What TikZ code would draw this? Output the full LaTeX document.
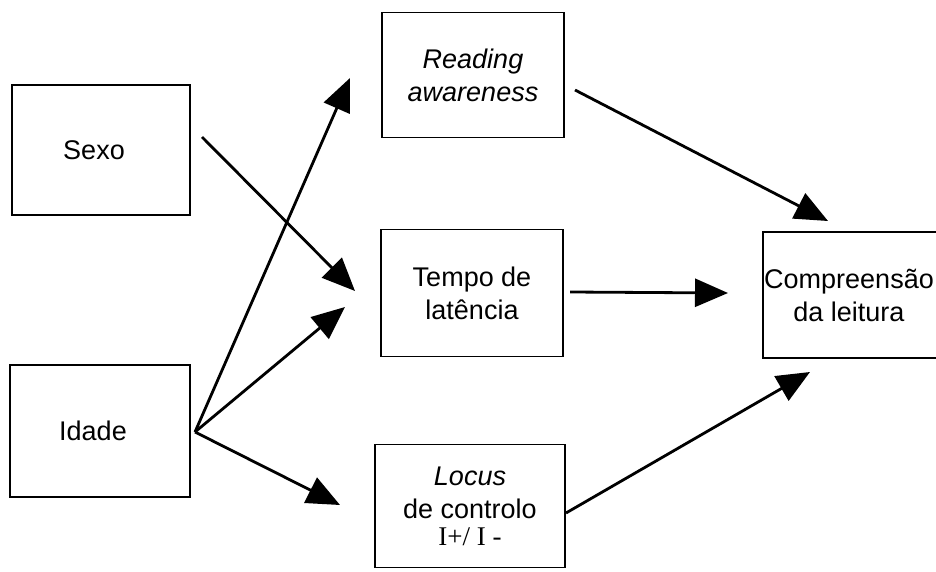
\documentclass[tikz,border=0pt]{standalone}
\usepackage{fontspec}
\setmainfont{Liberation Sans}
\newfontfamily\serifone{Liberation Serif}
\usetikzlibrary{arrows.meta}
\begin{document}
\begin{tikzpicture}[x=1pt,y=-1pt,
  boxnode/.style={draw,line width=1.9pt,rectangle,align=center,inner sep=0pt,
    font=\fontsize{27}{33}\selectfont},
  conn/.style={line width=2.8pt,-{Triangle[length=33pt,width=28pt]}}]
\useasboundingbox (0,0) rectangle (936,572);
\node[boxnode,minimum width=178pt,minimum height=130pt] (sexo) at (101,150) {Sexo\hspace*{14pt}};
\node[boxnode,minimum width=180pt,minimum height=132pt] (idade) at (100,431) {Idade\hspace*{14pt}};
\node[boxnode,minimum width=182pt,minimum height=125pt] (read) at (473,75) {\itshape Reading\\\itshape awareness};
\node[boxnode,minimum width=182pt,minimum height=127pt] (tempo) at (472,293) {Tempo de\\latência};
\node[boxnode,minimum width=190pt,minimum height=123pt] (locus) at (470,506) {\itshape Locus\\de controlo\\[-6pt]{\serifone I+/ I -}};
\node[boxnode,minimum width=184pt,minimum height=126pt] (comp) at (855,295) {\hspace*{-12pt}Compreensão\\\hspace*{-12pt}da leitura};
\coordinate (s0) at (202,137);
\coordinate (i0) at (195,432);
\coordinate (r0) at (575,90);
\coordinate (t0) at (570,292);
\coordinate (l0) at (566,513);
\coordinate (tReadIn) at (350,78);
\coordinate (tTempoA) at (355,291);
\coordinate (tTempoB) at (345,307);
\coordinate (tLocus) at (340,505);
\coordinate (tCompA) at (828,221);
\coordinate (tCompB) at (728,293);
\coordinate (tCompC) at (810,372);
\draw[conn] (s0) -- (tTempoA);
\draw[conn] (i0) -- (tReadIn);
\draw[conn] (i0) -- (tTempoB);
\draw[conn] (i0) -- (tLocus);
\draw[conn] (r0) -- (tCompA);
\draw[conn] (t0) -- (tCompB);
\draw[conn] (l0) -- (tCompC);
\end{tikzpicture}
\end{document}
